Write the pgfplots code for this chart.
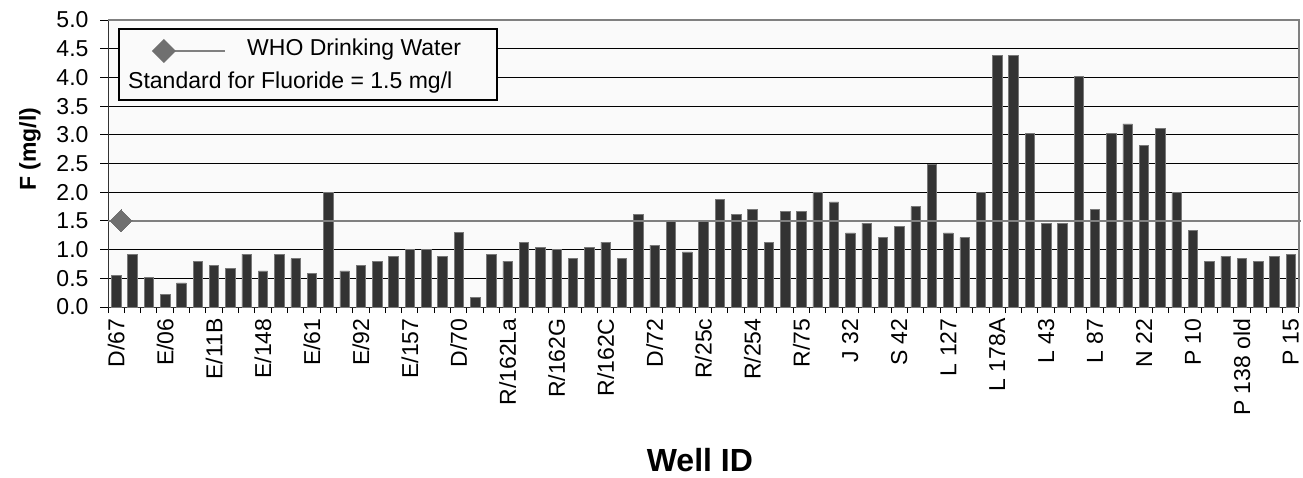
\documentclass[border=0pt]{standalone}
\usepackage{fontspec}
\setmainfont{Liberation Sans}
\usepackage{pgfplots}
\pgfplotsset{compat=1.18}

\definecolor{bardark}{RGB}{51,51,51}
\definecolor{baredge}{RGB}{120,120,120}
\definecolor{stdline}{RGB}{128,128,128}
\definecolor{stdmark}{RGB}{112,112,112}
\definecolor{plotbg}{RGB}{250,250,250}

\begin{document}
\begin{tikzpicture}[x=1pt,y=1pt]
\path[use as bounding box] (0,0) rectangle (1303,477);
\begin{axis}[
    at={(108pt,170pt)}, anchor=south west,
    scale only axis,
    width=1191pt, height=287pt,
    xmin=0.5, xmax=73.5,
    ymin=0, ymax=5,
    axis x line*=bottom, axis y line*=left,
    axis line style={black!80, line width=1pt},
    tick align=outside,
    xtick={1,4,...,73},
    xticklabels={D/67,E/06,E/11B,E/148,E/61,E/92,E/157,D/70,R/162La,R/162G,
        R/162C,D/72,R/25c,R/254,R/75,J 32,S 42,L 127,L 178A,L 43,L 87,N 22,
        P 10,P 138 old,P 15},
    minor xtick={0.5,1.5,...,73.5},
    major x tick style={draw=none},
    minor x tick style={black, line width=1pt},
    minor tick length=6pt,
    ytick={0,0.5,...,5},
    major tick length=8pt,
    y tick style={black, line width=1pt},
    ymajorgrids=true,
    grid style={black, line width=0.8pt},
    axis background/.style={fill=plotbg},
    /pgf/number format/assume math mode=true,
    tick label style={font=\fontsize{23}{27}\selectfont},
    xticklabel style={rotate=90, anchor=east},
    yticklabel style={xshift=-8pt, /pgf/number format/.cd, fixed, fixed zerofill, precision=1},
    ylabel={\fontsize{23}{27}\selectfont\bfseries F (mg/l)},
    ylabel style={at={(axis description cs:-0.0655,0.55)}, anchor=center, inner sep=0pt},
    xlabel={\fontsize{32}{36}\selectfont\bfseries Well ID},
    xlabel style={at={(axis description cs:0.497,-0.535)}, anchor=center, inner sep=0pt},
    clip=false,
]
\addplot[ybar, bar width=0.58, fill=bardark, draw=baredge, line width=0.6pt] coordinates {
(1,0.55)(2,0.92)(3,0.51)(4,0.22)(5,0.42)(6,0.80)(7,0.72)(8,0.67)(9,0.92)(10,0.63)
(11,0.92)(12,0.84)(13,0.59)(14,2.0)(15,0.63)(16,0.72)(17,0.80)(18,0.88)(19,1.0)(20,1.0)
(21,0.88)(22,1.30)(23,0.17)(24,0.92)(25,0.80)(26,1.13)(27,1.04)(28,1.0)(29,0.84)(30,1.04)
(31,1.13)(32,0.84)(33,1.62)(34,1.08)(35,1.50)(36,0.96)(37,1.50)(38,1.87)(39,1.62)(40,1.70)
(41,1.13)(42,1.66)(43,1.66)(44,2.0)(45,1.83)(46,1.29)(47,1.46)(48,1.21)(49,1.41)(50,1.75)
(51,2.49)(52,1.29)(53,1.21)(54,2.0)(55,4.39)(56,4.39)(57,3.02)(58,1.45)(59,1.45)(60,4.02)
(61,1.70)(62,3.02)(63,3.19)(64,2.82)(65,3.11)(66,2.0)(67,1.33)(68,0.80)(69,0.88)(70,0.84)
(71,0.80)(72,0.88)(73,0.92)
};
\addplot[stdline, line width=2.5pt, mark=square*, mark indices={2},
    mark size=7.8pt, mark options={rotate=45, fill=stdmark, draw=stdmark, line width=0pt}]
    coordinates {(0.5,1.5)(1.3,1.5)(73.6,1.5)};
% border on top and right
\draw[stdline, line width=1.5pt] (rel axis cs:0,1) -- (rel axis cs:1,1) -- (rel axis cs:1,0);
% legend box
\draw[black, line width=1.5pt, fill=plotbg] (rel axis cs:0.0092,0.7213) rectangle (rel axis cs:0.3266,0.9686);
\draw[stdline, line width=1.2pt] (rel axis cs:0.0537,0.892) -- (rel axis cs:0.0982,0.892);
\fill[stdmark] (rel axis cs:0.0537,0.892) ++(-12pt,0) -- ++(12pt,12pt) -- ++(12pt,-12pt) -- ++(-12pt,-12pt) -- cycle;
\node[anchor=base west, inner sep=0pt, font=\fontsize{23}{27}\selectfont] at (rel axis cs:0.1167,0.878) {WHO Drinking Water};
\node[anchor=base west, inner sep=0pt, font=\fontsize{23}{27}\selectfont] at (rel axis cs:0.0168,0.763) {Standard for Fluoride = 1.5 mg/l};
\end{axis}
\end{tikzpicture}
\end{document}
